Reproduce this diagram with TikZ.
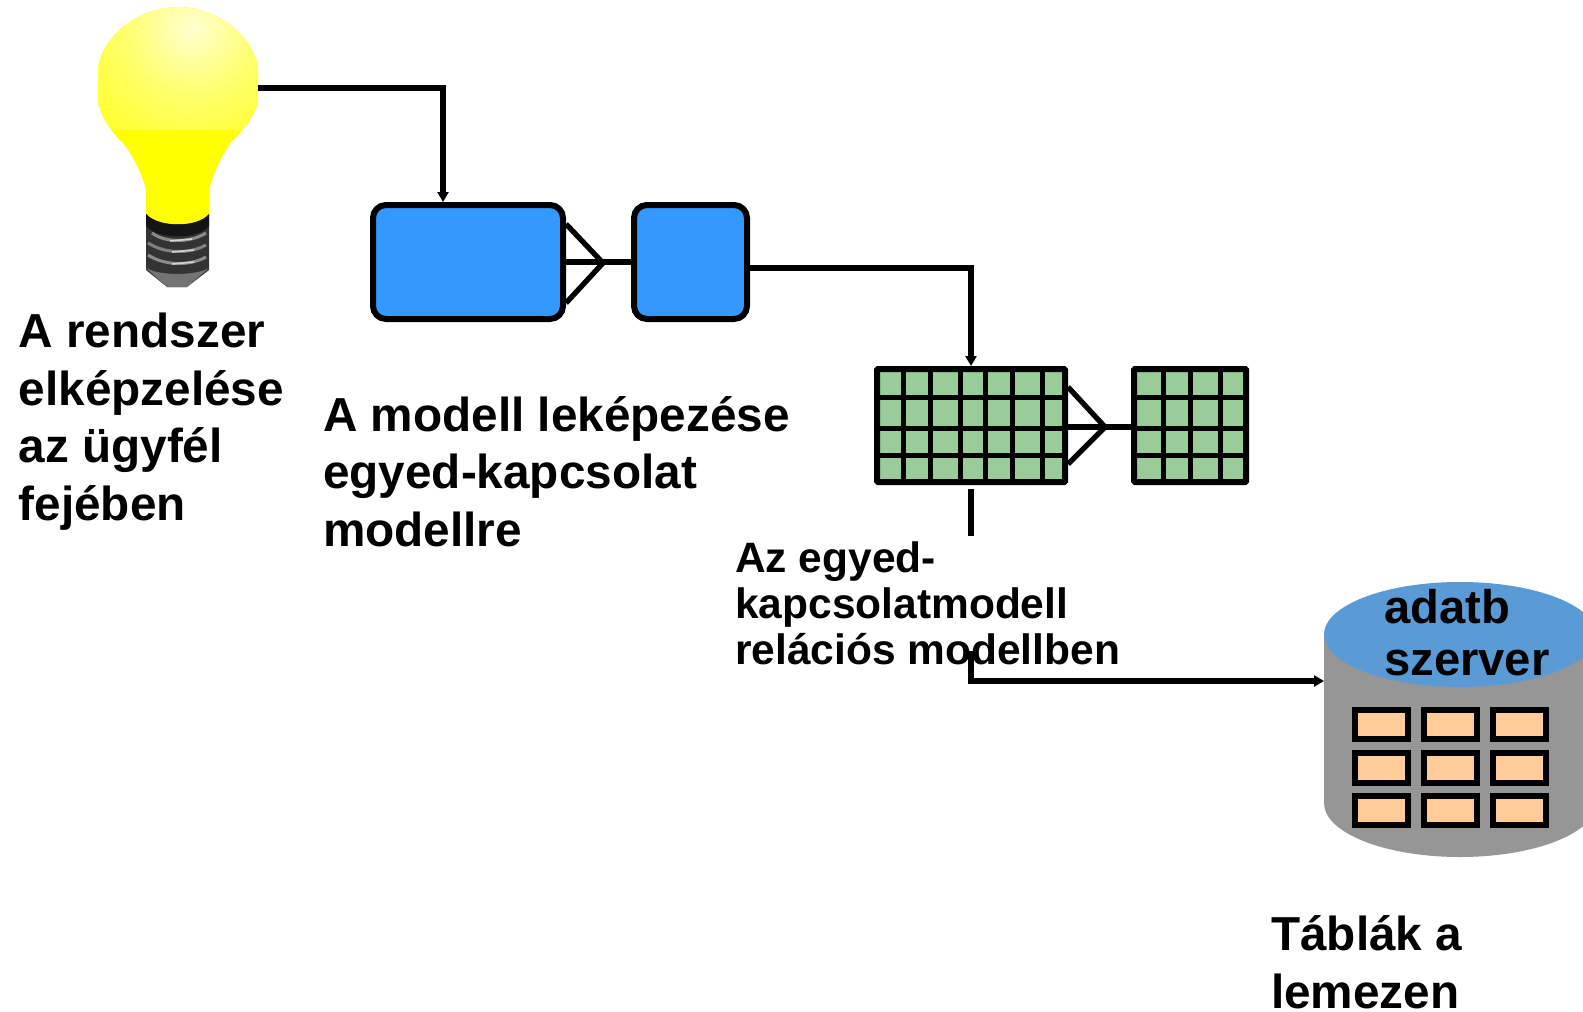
\documentclass[tikz,border=0pt]{standalone}
\usepackage{fontspec}
\setmainfont{Liberation Sans}
\usetikzlibrary{arrows.meta}
\definecolor{bulbY}{HTML}{FFFF00}
\definecolor{bulbW}{HTML}{FFFFD0}
\definecolor{bulbM}{HTML}{FFFF70}
\definecolor{bulbN}{HTML}{FFFF30}
\definecolor{boxblue}{HTML}{3399FF}
\definecolor{cellgreen}{HTML}{99CC99}
\definecolor{dbtop}{HTML}{5B9BD5}
\definecolor{dbbody}{HTML}{969696}
\definecolor{cellorange}{HTML}{FFCC99}
\pgfdeclareradialshading{bulbglow}{\pgfpoint{0bp}{0bp}}{color(0bp)=(bulbW); color(8bp)=(bulbM); color(16bp)=(bulbN); color(25bp)=(bulbY); color(50bp)=(bulbY)}
\tikzset{
  x=1pt,y=-1pt,
  conn/.style={line width=5.3pt,draw=black},
  arr/.style={conn,-{Triangle[length=10pt,width=11pt]}},
  bluebox/.style={draw=black,fill=boxblue,line width=6pt,rounded corners=13pt,inner sep=0pt,minimum height=114pt},
  gridbox/.style={draw=black,fill=cellgreen,line width=6pt,inner sep=0pt,minimum height=113pt,rounded corners=1pt},
  gridline/.style={draw=black,line width=5pt},
  tablecell/.style={draw=black,fill=cellorange,line width=6pt,inner sep=0pt,minimum width=53pt,minimum height=29.5pt},
  big/.style={inner sep=0pt,anchor=base west,align=left,font=\bfseries\fontsize{47.7}{57.6}\selectfont},
  mid/.style={inner sep=0pt,anchor=base west,align=left,font=\bfseries\fontsize{42.5}{46}\selectfont},
  dbt/.style={inner sep=0pt,anchor=base west,align=left,font=\bfseries\fontsize{47.2}{52}\selectfont},
  thread/.style={line width=3pt,draw=#1},
}
\begin{document}
\begin{tikzpicture}
\useasboundingbox (0,0) rectangle (1583,1012);
% --- light bulb ---
\begin{scope}
\clip (178,7) .. controls (222,7) and (258,42) .. (258,72) -- (258,98)
  .. controls (258,115) and (240,133) .. (230,143)
  .. controls (222,155) and (212,175) .. (209,190) -- (209,214)
  .. controls (198,228) and (158,228) .. (146,214) -- (146,190)
  .. controls (143,175) and (133,155) .. (123,143)
  .. controls (113,133) and (98,115) .. (98,98) -- (98,72)
  .. controls (98,42) and (134,7) .. (178,7) -- cycle;
\fill[bulbY] (90,0) rectangle (265,235);
\shade[shading=bulbglow] (192,28) circle [radius=200];
\fill[bulbY] (90,130) rectangle (265,235);
\end{scope}
\path[fill=black!80] (146,214) .. controls (158,228) and (198,228) .. (209,214)
  -- (209,270) -- (187,287) -- (167,287) -- (146,270) -- cycle;
\path[fill=black!92] (146,214) .. controls (158,228) and (198,228) .. (209,214)
  -- (209,226) .. controls (198,240) and (158,240) .. (146,226) -- cycle;
\draw[thread=black!45] (152,233) .. controls (165,243) and (190,243) .. (206,233);
\draw[thread=black!50] (148,243) .. controls (165,254) and (190,254) .. (206,245);
\draw[thread=black!45] (148,255) .. controls (165,266) and (190,266) .. (206,257);
\draw[line width=1.6pt,draw=black!18] (170,241) -- (192,239);
\draw[line width=1.6pt,draw=black!18] (172,252) -- (194,250);
\draw[line width=1.6pt,draw=black!18] (172,264) -- (194,262);
\path[fill=black!55] (146,268) .. controls (160,276) and (195,276) .. (209,268) -- (187,287) -- (167,287) -- cycle;
\node[inner sep=0pt,minimum width=160pt,minimum height=280pt] (bulb) at (178,147) {};
\coordinate (bulbout) at (258,88);

% --- blue boxes ---
\node[bluebox,minimum width=190pt] (box1) at (468,262) {};
\node[bluebox,minimum width=113pt] (box2) at (690.5,262) {};
\coordinate (box1in) at (443,202);
\coordinate (box1up) at (566,224);
\coordinate (box1dn) at (566,303);
\coordinate (tip1) at (603,263);
\coordinate (box2out) at (750,268);
\draw[arr] (bulbout) -| (box1in);
\draw[conn] (box1up) -- (tip1) -- (box1dn);
\draw[conn] (box1.east) -- (box2.west);

% --- green tables ---
\node[gridbox,minimum width=188pt] (grid1) at (971,425.5) {};
\node[gridbox,minimum width=112pt] (grid2) at (1190,425.5) {};
\foreach \vx in {903.7,930.3,960.7,985.7,1012.3,1042.3}
  \draw[gridline] (\vx,366) -- (\vx,485);
\foreach \vy in {397.7,428.3,455}
  \draw[gridline] (874,\vy) -- (1068,\vy);
\foreach \vx in {1163.3,1190.3,1220.3}
  \draw[gridline] (\vx,366) -- (\vx,485);
\foreach \vy in {397.7,428.3,455}
  \draw[gridline] (1131,\vy) -- (1249,\vy);
\coordinate (grid1in) at (971,366);
\coordinate (grid1up) at (1068,387);
\coordinate (grid1dn) at (1068,464);
\coordinate (tip2) at (1105,427);
\coordinate (grid1mid) at (1068,427);
\coordinate (grid2mid) at (1131,427);
\draw[arr] (box2out) -| (grid1in);
\draw[conn] (grid1up) -- (tip2) -- (grid1dn);
\draw[conn] (grid1mid) -- (grid2mid);
\coordinate (stubtop) at (971,489);
\coordinate (stubend) at (971,536);
\draw[conn] (stubtop) -- (stubend);

% --- database ---
\path[fill=dbbody] (1324,634) -- (1324,803) .. controls (1324,833) and (1385,857) .. (1460,857)
  .. controls (1535,857) and (1596,833) .. (1596,803) -- (1596,634) -- cycle;
\fill[dbtop] (1460,634.5) ellipse [x radius=136,y radius=52.5];
\node[inner sep=0pt,minimum width=272pt,minimum height=275pt] (db) at (1460,719.5) {};
\foreach \rowy [count=\r] in {724.5,768,810.5}
  \foreach \colx [count=\c] in {1381.5,1450.5,1519}
    \node[tablecell] (tc\r\c) at (\colx,\rowy) {};
\coordinate (dbin) at (1324,681);
\coordinate (midstart) at (971,651);
\draw[arr] (midstart) |- (dbin);

% --- texts ---
\node[big] (t1) at (18.5,520.5) {A rendszer\\elképzelése\\az ügyfél\\fejében};
\node[big] (t2) at (323,546.5) {A modell leképezése\\egyed-kapcsolat\\modellre};
\node[mid] (t3) at (735,664) {Az egyed-\\kapcsolatmodell\\relációs modellben};
\node[dbt] (t4) at (1384,675) {adatb\\szerver};
\node[big] (t5) at (1271,1008) {Táblák a\\lemezen};
\end{tikzpicture}
\end{document}
